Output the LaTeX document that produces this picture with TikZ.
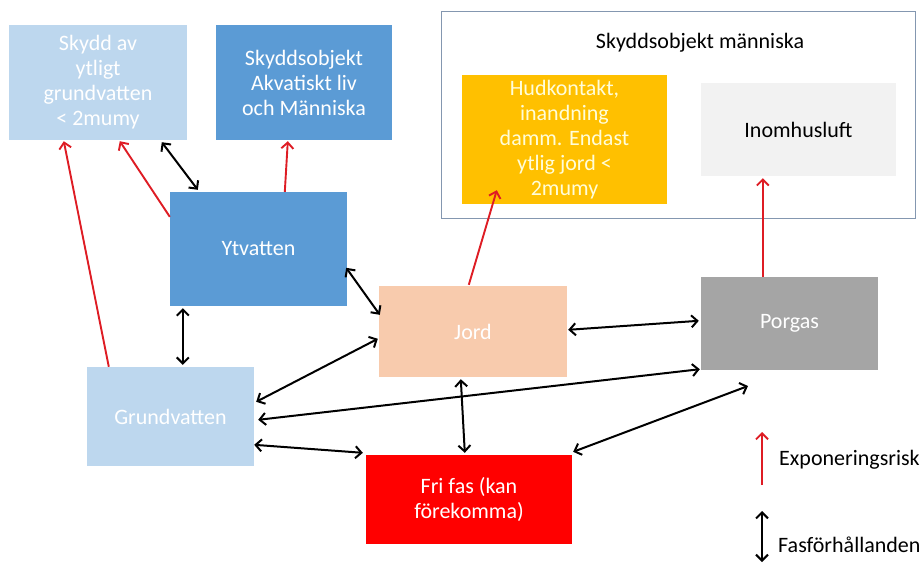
\documentclass[tikz,border=0pt]{standalone}
\usepackage{fontspec}
\setmainfont{Carlito}
\usetikzlibrary{arrows.meta,calc}
\definecolor{lblue}{RGB}{189,215,238}
\definecolor{mblue}{RGB}{91,155,213}
\definecolor{gold}{RGB}{255,192,0}
\definecolor{lgray}{RGB}{242,242,242}
\definecolor{peach}{RGB}{248,203,173}
\definecolor{mgray}{RGB}{165,165,165}
\definecolor{frred}{RGB}{255,0,0}
\definecolor{arrred}{RGB}{222,28,36}
\definecolor{framecol}{RGB}{132,151,176}
\tikzset{
  box/.style={rectangle, inner sep=2pt, align=center, font=\fontsize{22}{25}\selectfont, text=white},
  phase/.style={draw=black, line width=2pt, {Straight Barb[length=6pt,width=12pt]}-{Straight Barb[length=6pt,width=12pt]}},
  risk/.style={draw=arrred, line width=1.9pt, -{Straight Barb[length=6pt,width=12pt]}},
  lbl/.style={font=\fontsize{22}{25}\selectfont, text=black, inner sep=0pt},
}
\begin{document}
\begin{tikzpicture}[x=1pt,y=-1pt]
\useasboundingbox (0,0) rectangle (923,563);
% frame
\node[draw=framecol, line width=1pt, minimum width=474pt, minimum height=207pt, inner sep=0pt] (frame) at (678,114.5) {};
\node[lbl, anchor=center] (frametitle) at (700,43) {Skyddsobjekt människa};
% boxes
\node[box, fill=lblue, minimum width=178pt, minimum height=115pt] (sk) at (98,82.5) {Skydd av\\ytligt\\grundvatten\\< 2mumy};
\node[box, fill=mblue, minimum width=176pt, minimum height=115pt] (ak) at (304,82.5) {Skyddsobjekt\\Akvatiskt liv\\och Människa};
\node[box, fill=mblue, minimum width=177pt, minimum height=114pt] (ytv) at (258.5,249) {Ytvatten};
\node[box, fill=gold, text=white!85!yellow, minimum width=205pt, minimum height=129pt] (hud) at (564.5,139.5) {Hudkontakt,\\inandning\\damm. Endast\\ytlig jord <\\2mumy};
\node[box, fill=lgray, text=black, minimum width=195pt, minimum height=93pt] (inom) at (798.5,129.5) {Inomhusluft};
\node[box, fill=peach, minimum width=188pt, minimum height=91pt] (jord) at (473,331.5) {Jord};
\node[box, fill=mgray, minimum width=177pt, minimum height=93pt] (porg) at (789.5,323.5) {Porgas};
\node[box, fill=lblue, minimum width=167pt, minimum height=99pt] (gv) at (170.5,416.5) {Grundvatten};
\node[box, fill=frred, minimum width=206pt, minimum height=89pt] (fri) at (469,499.5) {Fri fas (kan\\förekomma)};
% free ends
\coordinate (p1) at (748,386);
\coordinate (lr1) at (762,485);
\coordinate (lr2) at (762,432);
\coordinate (lb1) at (762,511);
\coordinate (lb2) at (762,562);
% risk arrows
\draw[risk] ($(gv.north west)+(22,0)$) -- ($(sk.south west)+(55,1)$);
\draw[risk] ($(ytv.north west)+(0,25)$) -- ($(sk.south west)+(111,1)$);
\draw[risk] ($(ytv.north west)+(115,0)$) -- ($(ak.south west)+(72,1)$);
\draw[risk] ($(jord.north west)+(90,-1)$) -- ($(hud.south west)+(35,-14)$);
\draw[risk] ($(porg.north west)+(62,0)$) -- ($(inom.south west)+(62,2)$);
% phase arrows
\draw[phase] ($(sk.south west)+(153,2)$) -- ($(ytv.north west)+(28,-2)$);
\draw[phase] ($(ytv.north east)+(-1,76)$) -- ($(jord.north west)+(1,29)$);
\draw[phase] ($(ytv.south west)+(13,2)$) -- ($(gv.north west)+(96,-2)$);
\draw[phase] ($(gv.north east)+(2,35)$) -- ($(jord.north west)+(-1,53)$);
\draw[phase] ($(gv.north east)+(4,53)$) -- ($(porg.south west)+(-1,-1)$);
\draw[phase] ($(gv.north east)+(0,78)$) -- ($(fri.north west)+(-3,-2)$);
\draw[phase] ($(jord.south west)+(82,2)$) -- ($(fri.north west)+(99,-2)$);
\draw[phase] ($(jord.north east)+(1,44)$) -- ($(porg.north west)+(-2,44)$);
\draw[phase] ($(fri.north east)+(1,-3)$) -- (p1);
% legend
\draw[risk] (lr1) -- (lr2);
\node[lbl, anchor=west] (leg1) at (779,460) {Exponeringsrisk};
\draw[phase] (lb1) -- (lb2);
\node[lbl, anchor=west] (leg2) at (778,545) {Fasförhållanden};
\end{tikzpicture}
\end{document}
